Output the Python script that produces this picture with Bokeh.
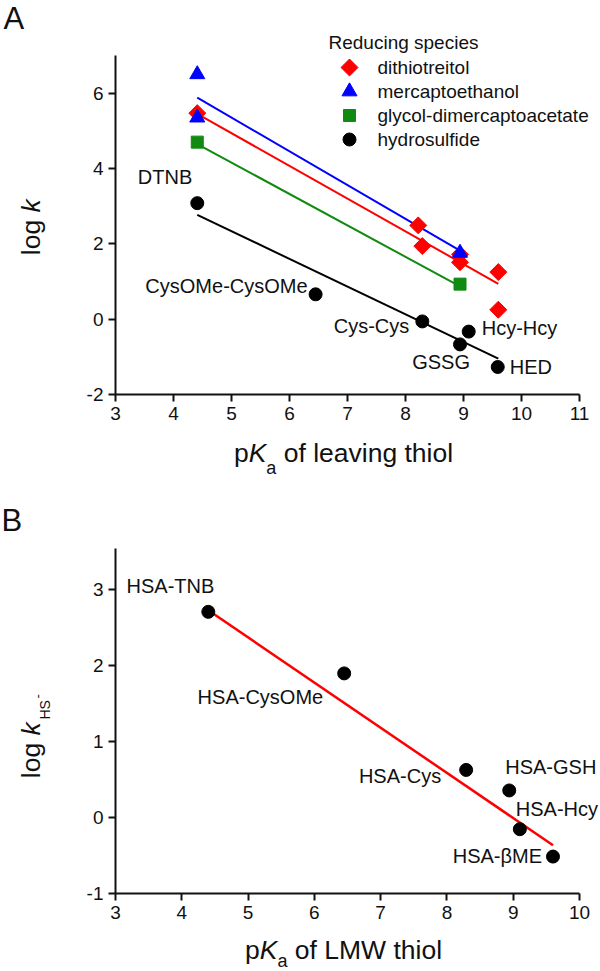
import numpy as np
from bokeh.plotting import figure
from bokeh.models import Range1d, FixedTicker, ColumnDataSource, LabelSet, Label, PrintfTickFormatter
from bokeh.layouts import column
from bokeh.embed import file_html
from bokeh.resources import INLINE
from bokeh.core.properties import value

FONT = "Liberation Sans"
INK = "#111111"

# ---------------- Panel A data ----------------
dtt_pka = [4.41, 8.22, 8.29, 8.94, 8.94, 9.60, 9.60]
dtt_logk = [5.47, 2.49, 1.94, 1.72, 1.51, 1.25, 0.25]
me_pka = [4.41, 4.41, 8.94]
me_logk = [6.50, 5.35, 1.76]
gd_pka = [4.41, 8.94]
gd_logk = [4.70, 0.93]
hs_pka = [4.41, 6.45, 8.29, 8.94, 9.09, 9.59]
hs_logk = [3.08, 0.66, -0.06, -0.67, -0.33, -1.27]
hs_names = ["DTNB", "CysOMe-CysOMe", "Cys-Cys", "GSSG", "Hcy-Hcy", "HED"]

dtt_fit_pka = [4.41, 9.60]
dtt_fit_logk = [5.45, 0.94]
me_fit_pka = [4.41, 8.94]
me_fit_logk = [5.88, 1.82]
gd_fit_pka = [4.41, 8.94]
gd_fit_logk = [4.65, 0.87]
hs_fit_pka = [4.41, 9.60]
hs_fit_logk = [2.77, -1.05]

legend_title = "Reducing species"
legend_labels = ["dithiotreitol", "mercaptoethanol", "glycol-dimercaptoacetate", "hydrosulfide"]

a_xticks = [3, 4, 5, 6, 7, 8, 9, 10, 11]
a_yticks = [-2, 0, 2, 4, 6]
a_xbounds = (3, 11)
a_ybounds = (-2, 7)

# ---------------- Panel B data ----------------
hsa_pka = [4.40, 6.45, 8.29, 8.94, 9.10, 9.60]
hsa_logk = [2.71, 1.90, 0.63, 0.36, -0.15, -0.51]
hsa_names = ["HSA-TNB", "HSA-CysOMe", "HSA-Cys", "HSA-GSH", "HSA-Hcy", "HSA-βME"]
hsa_fit_pka = [4.40, 9.60]
hsa_fit_logk = [2.73, -0.36]

b_xticks = [3, 4, 5, 6, 7, 8, 9, 10]
b_yticks = [-1, 0, 1, 2, 3]
b_xbounds = (3, 10)
b_ybounds = (-1, 3.54)

# ---------------- layout constants (pixels) ----------------
W = 600
A_H = 480
B_H = 491
TS = 26.5  # axis title font size

RED, BLUE, GREEN, BLACK = "#ff0000", "#0000ff", "#118a11", "#000000"

# point label placement: (dx px right, dy px down, align)
a_lab_pos = [(-5, -26, "right"), (-8, -8, "right"), (-13, 5, "right"),
             (10, 18, "right"), (13, -4, "left"), (12, 0, "left")]
b_lab_pos = [(6, -26, "right"), (-21, 24, "right"), (-25, 6, "right"),
             (-4, -23, "left"), (-4, -20, "left"), (-11, -1, "right")]

EM = {' ': .278, 'o': .556, 'f': .278, 'l': .222, 'e': .556, 'a': .556, 'v': .5, 'i': .222,
      'n': .556, 'g': .556, 't': .278, 'h': .556, 'L': .556, 'M': .833, 'W': .944, 'p': .556,
      'H': .722, 'S': .667, '-': .333, 'K': .667, 'k': .5}


def tw(s, size):
    return sum(EM.get(c, .556) for c in s) * size


class Geo:
    """Maps canvas pixels to data so the whole canvas is the plot frame."""
    def __init__(self, w, h, xa, xa_px, xb, xb_px, ya, ya_py, yb, yb_py):
        self.sx = (xb_px - xa_px) / (xb - xa)
        self.x0 = xa - xa_px / self.sx
        self.x1 = self.x0 + w / self.sx
        self.sy = (yb_py - ya_py) / (ya - yb)
        self.yt = ya + ya_py / self.sy
        self.yb = self.yt - h / self.sy

    def X(self, px):
        return self.x0 + px / self.sx

    def Y(self, py):
        return self.yt - py / self.sy


gA = Geo(W, A_H, 3, 115, 11, 579, 7, 55, -2, 394)
gB = Geo(W, B_H, 3, 115, 10, 579, 3, 109.3, -1, 413.3)


def make_fig(h, g, xt, yt, xb, yb):
    p = figure(width=W, height=h, x_range=Range1d(g.x0, g.x1), y_range=Range1d(g.yb, g.yt),
               output_backend="svg", toolbar_location=None,
               min_border_left=0, min_border_right=0, min_border_top=0, min_border_bottom=0)
    p.outline_line_color = None
    p.xgrid.grid_line_color = None
    p.ygrid.grid_line_color = None
    p.background_fill_color = "white"
    p.border_fill_color = "white"
    p.xaxis.ticker = FixedTicker(ticks=xt)
    p.yaxis.ticker = FixedTicker(ticks=yt)
    p.xaxis.fixed_location = yb[0]
    p.yaxis.fixed_location = xb[0]
    p.xaxis.bounds = xb
    p.yaxis.bounds = yb
    for ax in (p.xaxis[0], p.yaxis[0]):
        ax.formatter = PrintfTickFormatter(format="%d")
        ax.axis_line_width = 2
        ax.axis_line_color = INK
        ax.major_tick_line_width = 2
        ax.major_tick_line_color = INK
        ax.major_tick_out = 7
        ax.major_tick_in = 0
        ax.minor_tick_line_color = None
        ax.major_label_text_font = FONT
        ax.major_label_text_font_size = "19px"
        ax.major_label_text_color = INK
        ax.major_label_standoff = 5
    return p


def txt(p, g, px, py, s, size, align="left", style="normal", angle=0.0):
    # (px, py) = left/right edge and vertical centre of the text, in canvas pixels
    p.add_layout(Label(x=g.X(px), y=g.Y(py), text=s, text_align=align,
                       text_baseline="middle", text_font=FONT, text_font_size=f"{size}px",
                       text_font_style=style, text_color=INK, angle=angle))


def point_labels(p, xs, ys, names, pos):
    for al in ("left", "right"):
        d = dict(x=[], y=[], text=[], xo=[], yo=[])
        for x, y, n, (dx, dy, a) in zip(xs, ys, names, pos):
            if a == al:
                d["x"].append(x); d["y"].append(y); d["text"].append(n)
                d["xo"].append(dx); d["yo"].append(-dy)
        p.add_layout(LabelSet(x="x", y="y", text="text", x_offset="xo", y_offset="yo",
                              source=ColumnDataSource(d), text_align=al, text_baseline="middle",
                              text_font=value(FONT), text_font_size="20px", text_color=INK))


def h_title(p, g, center_px, main_py, sub_py, rest, size=TS, sub=18):
    parts = [("p", size, "normal", main_py, 0), ("K", size, "italic", main_py, 0),
             ("a", sub, "normal", sub_py, tw(" ", size)), (rest, size, "normal", main_py, 0)]
    total = sum(tw(s, sz) + gap for s, sz, _, _, gap in parts)
    cx = center_px - total / 2
    for s, sz, st, py, gap in parts:
        txt(p, g, cx, py, s, sz, style=st)
        cx += tw(s, sz) + gap


# ================= Panel A =================
pa = make_fig(A_H, gA, a_xticks, a_yticks, a_xbounds, a_ybounds)
pa.line(me_fit_pka, me_fit_logk, line_width=2, color=BLUE)
pa.line(dtt_fit_pka, dtt_fit_logk, line_width=2, color=RED)
pa.line(gd_fit_pka, gd_fit_logk, line_width=2, color=GREEN)
pa.line(hs_fit_pka, hs_fit_logk, line_width=2, color=BLACK)

mk_dtt = dict(marker="square", angle=np.pi / 4, size=12, color=RED)
mk_me = dict(marker="triangle", size=15, color=BLUE)
mk_gd = dict(marker="square", size=12, color=GREEN)
mk_hs = dict(marker="circle", size=13, color=BLACK)

pa.scatter(dtt_pka, dtt_logk, **mk_dtt)
pa.scatter(me_pka, me_logk, **mk_me)
pa.scatter(gd_pka, gd_logk, **mk_gd)
pa.scatter(hs_pka, hs_logk, **mk_hs)
point_labels(pa, hs_pka, hs_logk, hs_names, a_lab_pos)

# legend (custom layout, pixel placement)
for i, (lab, mk) in enumerate(zip(legend_labels, [mk_dtt, mk_me, mk_gd, mk_hs])):
    py = 67 + 24 * i
    pa.scatter([gA.X(349)], [gA.Y(py)], **mk)
    txt(pa, gA, 377, py, lab, 19)
txt(pa, gA, 328, 42, legend_title, 19)

# panel letter, axis titles
txt(pa, gA, 3, 18, "A", 31)
h_title(pa, gA, 343, 452, 467, "of leaving thiol")
txt(pa, gA, 30, 212, "log ", TS, align="right", angle=np.pi / 2)
txt(pa, gA, 30, 212, "k", TS, align="left", style="italic", angle=np.pi / 2)

# ================= Panel B =================
pb = make_fig(B_H, gB, b_xticks, b_yticks, b_xbounds, b_ybounds)
pb.line(hsa_fit_pka, hsa_fit_logk, line_width=2.5, color=RED)
pb.scatter(hsa_pka, hsa_logk, marker="circle", size=13, color=BLACK)
point_labels(pb, hsa_pka, hsa_logk, hsa_names, b_lab_pos)

txt(pb, gB, 1, 40, "B", 31)
h_title(pb, gB, 343, 469, 480, "of LMW thiol")
txt(pb, gB, 30, 255, "log ", TS, align="right", angle=np.pi / 2)
txt(pb, gB, 30, 255, "k", TS, align="left", style="italic", angle=np.pi / 2)
txt(pb, gB, 44, 239, "HS", 14, align="left", angle=np.pi / 2)
txt(pb, gB, 37, 218, "-", 13, align="left", angle=np.pi / 2)

layout = column(pa, pb)
open("out.html", "w").write(file_html(layout, INLINE))
